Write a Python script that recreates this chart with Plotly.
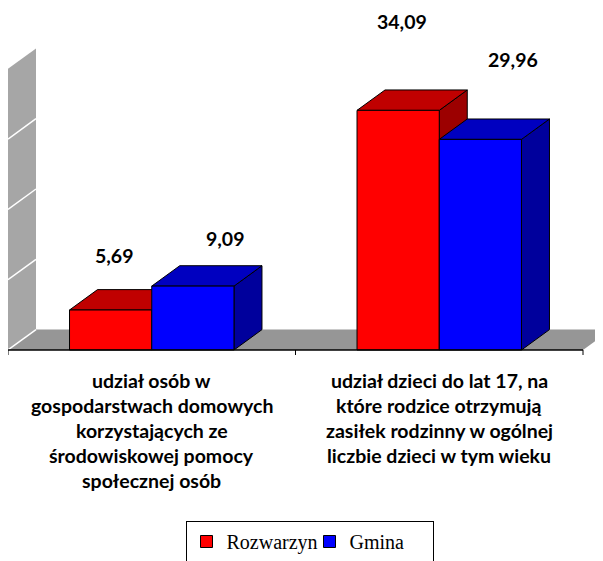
import plotly.graph_objects as go

# data
category_lines = [
    ["udział osób w", "gospodarstwach domowych", "korzystających ze",
     "środowiskowej pomocy", "społecznej osób"],
    ["udział dzieci do lat 17, na", "które rodzice otrzymują",
     "zasiłek rodzinny w ogólnej", "liczbie dzieci w tym wieku"],
]
series_names = ["Rozwarzyn", "Gmina"]
rozwarzyn = [5.69, 34.09]
gmina = [9.09, 29.96]
grid_values = [0, 10, 20, 30]
y_top = 40

# look of the fake 3d
BAR_W = 0.286
DX = 0.0974
DY = 2.9
front = ["#ff0000", "#0000ff"]
top_col = ["#c00000", "#0000c0"]
side_col = ["#9c0000", "#00009c"]
label_dx = [0.015, 0.115]
label_lift = [[7.8, 12.6], [6.8, 11.3]]

# page has an 8px body margin, so the figure sits at (8, 8)
W, H = 595, 553
PLOT_H = 347           # plot area: page y 8..355
PX_PER_UNIT = 7.03

def py2paper(py_page):
    return (355 - py_page) / PLOT_H

def poly(pts):
    return "M " + " L ".join("%f,%f" % p for p in pts) + " Z"

fig = go.Figure()
shapes = []

# back wall + floor
x0 = -0.5
shapes.append(dict(type="path", layer="below", line=dict(width=0), fillcolor="#a6a6a6",
                   path=poly([(x0, 0), (x0, y_top), (x0 + DX, y_top + DY), (x0 + DX, DY)])))
shapes.append(dict(type="path", layer="below", line=dict(width=0), fillcolor="#969696",
                   path=poly([(x0, 0), (1.5, 0), (1.5 + DX, DY), (x0 + DX, DY)])))
for v in grid_values:
    shapes.append(dict(type="line", layer="below", x0=x0, y0=v, x1=x0 + DX, y1=v + DY,
                       line=dict(color="white", width=1.5)))

# tops and sides of the bars
all_vals = [rozwarzyn, gmina]
for i in range(len(category_lines)):
    for s, vals in enumerate(all_vals):
        v = vals[i]
        bl = i - BAR_W if s == 0 else i
        br = bl + BAR_W
        shapes.append(dict(type="path", layer="below", fillcolor=side_col[s],
                           line=dict(color="black", width=1),
                           path=poly([(br, 0), (br, v), (br + DX, v + DY), (br + DX, DY)])))
        shapes.append(dict(type="path", layer="below", fillcolor=top_col[s],
                           line=dict(color="black", width=1),
                           path=poly([(bl, v), (br, v), (br + DX, v + DY), (bl + DX, v + DY)])))

# axis line and ticks
shapes.append(dict(type="line", x0=x0, y0=0, x1=1.5, y1=0, line=dict(color="black", width=1.5)))
for t in [-0.5, 0.5, 1.5]:
    shapes.append(dict(type="line", x0=t, y0=0, x1=t, y1=-0.8, line=dict(color="black", width=1)))

for s, vals in enumerate(all_vals):
    fig.add_trace(go.Bar(
        x=list(range(len(vals))), y=vals, name=series_names[s],
        marker=dict(color=front[s], line=dict(color="black", width=1)),
        hoverinfo="skip"
    ))

ann = []
for s, vals in enumerate(all_vals):
    for i, v in enumerate(vals):
        cx = i - BAR_W / 2 if s == 0 else i + BAR_W / 2
        ann.append(dict(x=cx + label_dx[s], y=v + label_lift[s][i], xref="x", yref="y",
                        text=("%.2f" % v).replace(".", ","), showarrow=False,
                        font=dict(family="Lato", size=19.5, color="black", weight="bold")))

for i, lines in enumerate(category_lines):
    for k, line in enumerate(lines):
        ann.append(dict(x=i, y=py2paper(380 + 25.2 * k), xref="x", yref="paper",
                        xanchor="center", yanchor="middle",
                        text=line, showarrow=False,
                        font=dict(family="Lato", size=19.5, color="black", weight="bold")))

fig.update_layout(
    width=W, height=H,
    margin=dict(l=0, r=0, t=0, b=H - PLOT_H, pad=0, autoexpand=False),
    paper_bgcolor="white", plot_bgcolor="white",
    barmode="group", bargap=1 - 2 * BAR_W, bargroupgap=0,
    xaxis=dict(range=[-0.5, -0.5 + W / 287.5], showticklabels=False, showgrid=False,
               zeroline=False, showline=False, ticks=""),
    yaxis=dict(range=[-5 / PX_PER_UNIT, 342 / PX_PER_UNIT], showticklabels=False,
               showgrid=False, zeroline=False, showline=False, ticks=""),
    shapes=shapes, annotations=ann,
    showlegend=True,
    legend=dict(orientation="h", x=(309.5 - 8) / W, xanchor="center",
                y=py2paper(521), yanchor="top", bordercolor="black", borderwidth=1,
                font=dict(family="Liberation Serif", size=20, color="black"),
                itemwidth=30, entrywidth=78, entrywidthmode="pixels", bgcolor="white"),
)

fig.write_html("out.html")
